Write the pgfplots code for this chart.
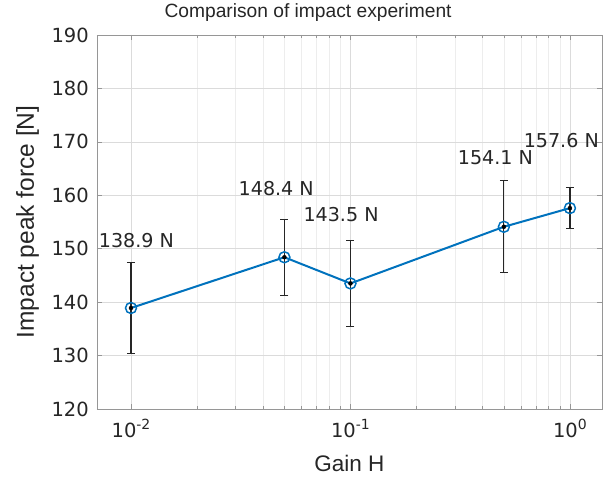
\documentclass[border=0pt]{standalone}
\usepackage{pgfplots}
\pgfplotsset{compat=1.18}
\usepackage{fontspec}
\setmainfont{DejaVu Sans}
\newfontfamily\labelfont{Liberation Sans}

\definecolor{mblue}{RGB}{0,114,189}
\definecolor{txt}{RGB}{38,38,38}
\definecolor{axcol}{RGB}{150,150,150}

% tick label exponent: smaller digits raised above the base
\newcommand{\tenpow}[1]{10{\fontsize{14}{14}\selectfont\raisebox{8pt}{#1}}}

\pgfplotstableread{
x     y      e
0.01  138.9  8.5
0.05  148.4  7.1
0.1   143.5  8.0
0.5   154.1  8.6
1     157.6  3.8
}\impact

\begin{document}
\begin{tikzpicture}
\begin{axis}[
  name=ax,
  scale only axis,
  width=505pt, height=374pt,
  xmode=log,
  xmin=0.007, xmax=1.4,
  ymin=120, ymax=190,
  ytick={120,130,...,190},
  xtick={0.01,0.1,1},
  xticklabels={\tenpow{-2},\tenpow{-1},\tenpow{0}},
  /pgf/number format/assume math mode=true,
  tick align=inside,
  major tick length=5pt,
  minor tick length=3pt,
  axis line style={axcol, line width=0.8pt},
  every tick/.style={axcol, line width=0.6pt},
  grid=both,
  major grid style={black!14, line width=0.6pt},
  minor grid style={black!7, line width=0.6pt},
  yminorgrids=false,
  xticklabel style={font=\fontsize{19.5}{20}\selectfont, text=txt, anchor=base, inner sep=0pt, yshift=-29pt},
  yticklabel style={font=\fontsize{19.5}{20}\selectfont, text=txt, anchor=east, inner sep=0pt, xshift=-8pt},
  clip=false,
]
% mean peak force
\addplot[mblue, line width=2pt, mark=o, mark size=5.5pt,
  mark options={line width=1.5pt}]
  table[x=x, y=y] {\impact};
% standard deviation of each set of trials
\addplot[only marks, mark=none,
  error bars/.cd, y dir=both, y explicit,
  error bar style={txt, line width=1.2pt},
  error mark options={rotate=90, mark size=4pt, line width=1.2pt, txt}]
  table[x=x, y=y, y error=e] {\impact};

\begin{scope}[every node/.style={font=\fontsize{19.1}{20}\selectfont, text=txt, anchor=west, inner sep=0pt}]
\node at (axis cs:0.00713,151.6) {138.9 N};
\node at (axis cs:0.0309,161.2) {148.4 N};
\node at (axis cs:0.0610,156.3) {143.5 N};
\node at (axis cs:0.308,167.0) {154.1 N};
\node at (axis cs:0.615,170.3) {157.6 N};
\end{scope}

\node[font=\labelfont\fontsize{19.2}{20}\selectfont, text=txt, anchor=base, inner sep=0pt]
  at ([yshift=17pt]rel axis cs:0.418,1) {Comparison of impact experiment};
\node[font=\labelfont\fontsize{22.5}{24}\selectfont, text=txt, anchor=base, inner sep=0pt]
  at ([yshift=-63pt]rel axis cs:0.5,0) {Gain H};
\node[font=\labelfont\fontsize{24.5}{26}\selectfont, text=txt, rotate=90, anchor=base, inner sep=0pt]
  at ([xshift=-63pt]rel axis cs:0,0.5) {Impact peak force [N]};
\end{axis}
\pgfresetboundingbox
\path[use as bounding box] ([xshift=-97pt,yshift=-73pt]ax.south west)
  rectangle ([xshift=14pt,yshift=35pt]ax.north east);
\end{tikzpicture}
\end{document}
